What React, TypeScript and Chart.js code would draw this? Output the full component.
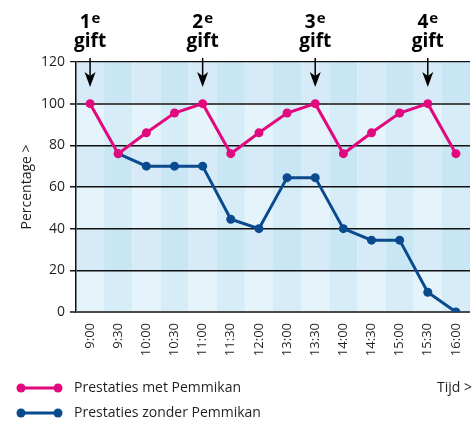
import React, { useEffect, useRef } from "react";
import { Chart, registerables } from "chart.js";

Chart.register(...registerables);

const categories = ["9:00", "9:30", "10:00", "10:30", "11:00", "11:30", "12:00", "13:00", "13:30", "14:00", "14:30", "15:00", "15:30", "16:00"];
const metPemmikan = [100, 76, 86, 95.5, 100, 76, 86, 95.5, 100, 76, 86, 95.5, 100, 76];
const zonderPemmikan = [null, 76, 70, 70, 70, 44.5, 40, 64.5, 64.5, 40, 34.5, 34.5, 9.5, 0];
const seriesLabels = ["Prestaties met Pemmikan", "Prestaties zonder Pemmikan"];
const seriesColors = ["#e2087e", "#0a4a8e"];
const yMin = 0;
const yMax = 120;
const yStep = 20;
const giftIndices = [0, 4, 8, 12];
const giftNumbers = ["1", "2", "3", "4"];
const giftSuffix = "e";
const giftWord = "gift";
const yTitle = "Percentage >";
const xTitle = "Tijd >";

const FONT = "'Open Sans', 'Noto Sans', sans-serif";
const TEXT = "#231f20";

const stripesPlugin = {
  id: "stripes",
  beforeDraw(chart: any) {
    const { ctx } = chart;
    const xs = chart.scales.x;
    const ys = chart.scales.y;
    const n = chart.data.labels.length;
    const w = (chart.chartArea.right - chart.chartArea.left) / n;
    const colors = [
      ["#e5f3fb", "#d6edf8"],
      ["#d6ebf7", "#c9e6f5"],
    ];
    ctx.save();
    for (let i = 0; i < n; i++) {
      const cx = xs.getPixelForValue(i);
      for (let v = yMin, r = 0; v < yMax; v += yStep, r++) {
        const y1 = ys.getPixelForValue(v + yStep);
        const y0 = ys.getPixelForValue(v);
        ctx.fillStyle = colors[r % 2][i % 2];
        ctx.fillRect(cx - w / 2, y1, w, y0 - y1);
      }
    }
    ctx.restore();
  },
};

const annotatePlugin = {
  id: "annotate",
  afterDraw(chart: any) {
    const { ctx, chartArea } = chart;
    const xs = chart.scales.x;
    const top = chartArea.top;
    ctx.save();
    giftIndices.forEach((idx, k) => {
      const x = xs.getPixelForValue(idx);
      ctx.fillStyle = "#000";
      ctx.textBaseline = "alphabetic";
      ctx.font = `bold 19px ${FONT}`;
      const numW = ctx.measureText(giftNumbers[k]).width;
      ctx.font = `bold 15px ${FONT}`;
      const supW = ctx.measureText(giftSuffix).width;
      const total = numW + supW + 1;
      const sx = x - total / 2;
      ctx.font = `bold 19px ${FONT}`;
      ctx.textAlign = "left";
      ctx.fillText(giftNumbers[k], sx, top - 34);
      ctx.font = `bold 15px ${FONT}`;
      ctx.fillText(giftSuffix, sx + numW + 1, top - 39);
      ctx.font = `bold 19px ${FONT}`;
      ctx.textAlign = "center";
      ctx.fillText(giftWord, x, top - 15);
      const tip = top + 25;
      ctx.strokeStyle = "#000";
      ctx.lineWidth = 1.5;
      ctx.beginPath();
      ctx.moveTo(x, top - 4);
      ctx.lineTo(x, tip - 8);
      ctx.stroke();
      ctx.beginPath();
      ctx.moveTo(x, tip);
      ctx.lineTo(x - 5.5, tip - 15);
      ctx.lineTo(x, tip - 11);
      ctx.lineTo(x + 5.5, tip - 15);
      ctx.closePath();
      ctx.fill();
    });
    ctx.restore();
  },
};

const legendPlugin = {
  id: "customLegend",
  afterDraw(chart: any) {
    const { ctx } = chart;
    const H = chart.height;
    const rowsY = [H - 34, H - 9];
    ctx.save();
    chart.data.datasets.forEach((ds: any, i: number) => {
      const y = rowsY[i];
      ctx.strokeStyle = ds.borderColor;
      ctx.fillStyle = ds.borderColor;
      ctx.lineWidth = 3;
      ctx.beginPath();
      ctx.moveTo(21, y);
      ctx.lineTo(58, y);
      ctx.stroke();
      [21, 58].forEach((px) => {
        ctx.beginPath();
        ctx.arc(px, y, 4.5, 0, Math.PI * 2);
        ctx.fill();
      });
      ctx.fillStyle = TEXT;
      ctx.font = `14px ${FONT}`;
      ctx.textAlign = "left";
      ctx.textBaseline = "middle";
      ctx.fillText(ds.label, 74, y);
    });
    ctx.textAlign = "right";
    ctx.fillText(xTitle, chart.width, rowsY[0]);
    ctx.restore();
  },
};

export default function App() {
  const ref = useRef<HTMLCanvasElement | null>(null);

  useEffect(() => {
    if (!ref.current) return;
    const chart = new Chart(ref.current, {
      type: "line",
      data: {
        labels: categories,
        datasets: [
          {
            label: seriesLabels[0],
            data: metPemmikan,
            borderColor: seriesColors[0],
            backgroundColor: seriesColors[0],
            borderWidth: 3,
            pointRadius: 4.5,
            pointBackgroundColor: seriesColors[0],
            pointBorderWidth: 0,
            tension: 0,
          },
          {
            label: seriesLabels[1],
            data: zonderPemmikan,
            borderColor: seriesColors[1],
            backgroundColor: seriesColors[1],
            borderWidth: 3,
            pointRadius: 4.5,
            pointBackgroundColor: seriesColors[1],
            pointBorderWidth: 0,
            tension: 0,
          },
        ],
      },
      options: {
        responsive: false,
        animation: false,
        events: [],
        layout: { autoPadding: false, padding: { top: 62, right: 2, bottom: 60, left: 0 } },
        plugins: {
          legend: { display: false },
          tooltip: { enabled: false },
        },
        scales: {
          x: {
            type: "category",
            offset: true,
            grid: { display: false, drawTicks: false },
            border: { display: false },
            ticks: {
              minRotation: 90,
              maxRotation: 90,
              autoSkip: false,
              padding: 11,
              color: TEXT,
              font: { family: FONT, size: 13 },
            },
            afterFit: (s: any) => {
              s.height = 50;
              s.paddingLeft = 0;
              s.paddingRight = 0;
            },
          },
          y: {
            min: yMin,
            max: yMax,
            ticks: {
              stepSize: yStep,
              padding: 5,
              color: TEXT,
              font: { family: FONT, size: 14 },
            },
            grid: {
              color: (c: any) => (c.tick && (c.tick.value === 100 || c.tick.value === 0) ? "#4a4a4a" : "#111"),
              lineWidth: (c: any) => (c.tick && (c.tick.value === 100 || c.tick.value === 0) ? 2 : c.tick && c.tick.value === 120 ? 1.2 : 1.5),
              tickLength: 6,
              drawTicks: true,
            },
            border: { display: true, color: "#111", width: 1.5 },
            title: {
              display: true,
              text: yTitle,
              color: TEXT,
              font: { family: FONT, size: 14 },
              padding: { top: 18.5, bottom: 0 },
            },
            afterFit: (s: any) => {
              s.width = 76;
              s.paddingTop = 0;
              s.paddingBottom = 0;
            },
          },
        },
      },
      plugins: [stripesPlugin, annotatePlugin, legendPlugin],
    } as any);
    return () => chart.destroy();
  }, []);

  return (
    <div style={{ position: "fixed", left: 0, top: 0, width: 472, height: 422, background: "#fff" }}>
      <canvas ref={ref} width={472} height={422} style={{ display: "block" }} />
    </div>
  );
}
